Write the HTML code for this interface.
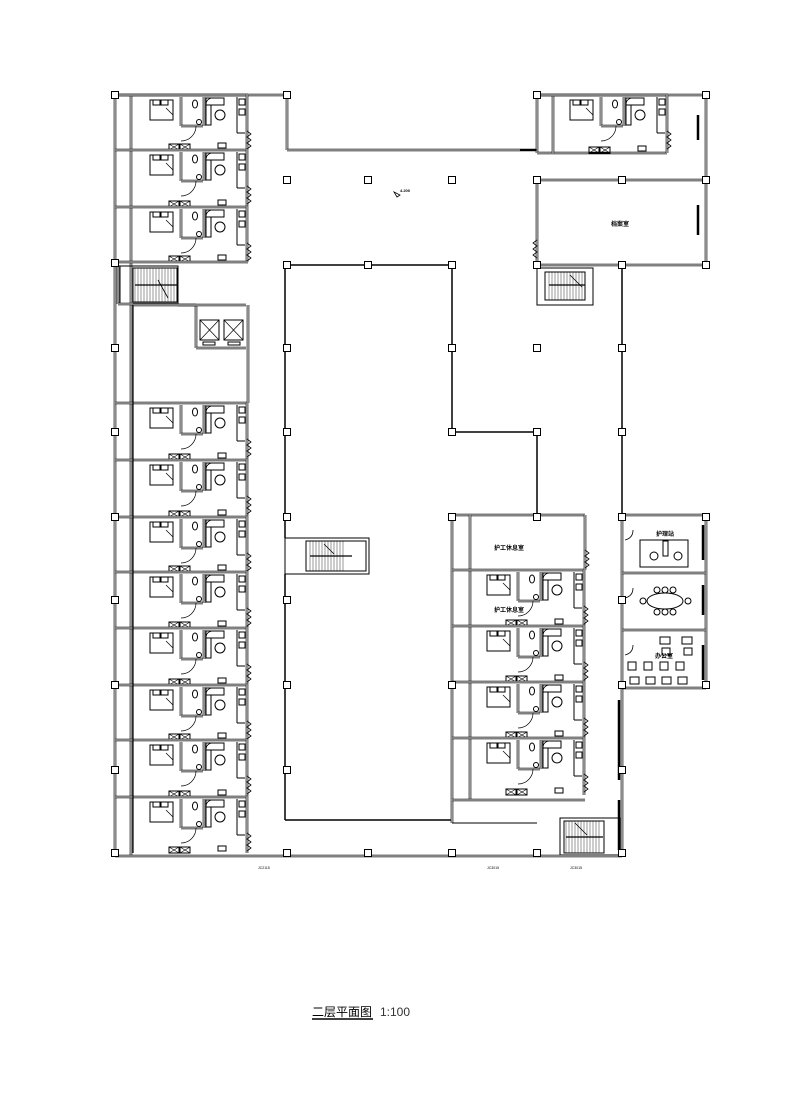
<!DOCTYPE html>
<html><head><meta charset="utf-8">
<style>html,body{margin:0;padding:0;background:#fff;}svg{display:block}</style>
</head><body>
<svg id="s" width="798" height="1098" viewBox="0 0 798 1098" xmlns="http://www.w3.org/2000/svg" font-family="'Liberation Sans','Noto Sans CJK SC',sans-serif">
<g id="g" fill="none" stroke="#000" stroke-width="1"></g>
<text x="312" y="1016" font-size="12" fill="#000" font-family="'Liberation Sans','Noto Sans CJK SC',sans-serif">二层平面图</text>
<line x1="312" y1="1019" x2="373" y2="1019" stroke="#000" stroke-width="1.5"/>
<text x="380" y="1016" font-size="12" fill="#333">1:100</text>
<g font-size="6" fill="#000" font-weight="bold">
<text x="611" y="226">档案室</text>
<text x="494" y="550">护工休息室</text>
<text x="494" y="612">护工休息室</text>
<text x="656" y="536">护理站</text>
<text x="655" y="658">办公室</text>
<text x="400" y="192" font-size="4">4.200</text>
</g>
<g font-size="3.5" fill="#000">
<text x="258" y="869">JC2115</text><text x="487" y="869">JC3015</text><text x="570" y="869">JC3015</text>
</g>
</svg>
<script>
var g=document.getElementById('g');var h='';
function L(a,b,c,d,w,col){h+='<line x1="'+a+'" y1="'+b+'" x2="'+c+'" y2="'+d+'"'+(w?' stroke-width="'+w+'"':'')+(col?' stroke="'+col+'"':'')+'/>';}
function D(a,b,c,d){L(a,b,c,d,2.6,'#000');L(a,b,c,d,1.1,'#fff');}
function R(x,y,w,hh,f){h+='<rect x="'+x+'" y="'+y+'" width="'+w+'" height="'+hh+'"'+(f?' fill="'+f+'"':'')+'/>';}
function C(x,y,r){h+='<circle cx="'+x+'" cy="'+y+'" r="'+r+'"/>';}
function P(d,w){h+='<path d="'+d+'"'+(w?' stroke-width="'+w+'"':'')+'/>';}
function post(x,y){R(x-3.5,y-3.5,7,7,'#fff');}
function unit(x,y,hh){
 D(x-18,y,x+115,y);
 R(x+17,y+5,23,20);R(x+20,y+5,7,5);R(x+28,y+5,7,5);P('M'+(x+33)+' '+(y+13)+' l7 7',0.7);
 D(x+48,y+2,x+48,y+31);D(x+48,y+31,x+70,y+31);D(x+71,y+2,x+71,y+31);
 h+='<ellipse cx="'+(x+62)+'" cy="'+(y+9)+'" rx="2.5" ry="4"/>';C(x+66,y+27,2.5);
 R(x+73,y+10,5,20);R(x+73,y+3,18,7);P('M'+(x+73)+' '+(y+10)+' q0 -6 6 -7',0.8);
 C(x+87,y+20,5);
 L(x+104,y+2,x+104,y+38);R(x+106,y+4,6,6);R(x+106,y+14,6,6);L(x+104,y+38,x+112,y+38);
 P('M'+(x+48)+' '+(y+46)+' a15 15 0 0 0 15 -15',0.7);
 R(x+36,hh+y-6,10,6);R(x+47,hh+y-6,10,6);P('M'+(x+36)+' '+(y+hh-6)+'l10 6m0 -6l-10 6m11 -6l10 6m0 -6l-10 6',0.6);
 R(x+85,y+hh-7,8,5);
 D(x+114,y,x+114,y+hh);
 P('M'+(x+114)+' '+(y+36)+' l4 3 -4 3 4 3 -4 3 4 3 -4 3',0.8);
}
D(115,95,287,95);D(115,95,115,855);D(131,95,131,855);
D(287,95,287,150);D(287,150,537,150);
D(115,856,622,856);
var ys=[95,150,207];for(var i=0;i<3;i++)unit(133,ys[i],ys[i+1]?ys[i+1]-ys[i]:55);
var ys2=[403,460,517,572,628,685,740,797];for(var i=0;i<8;i++)unit(133,ys2[i],(i<7?ys2[i+1]:853)-ys2[i]);
D(115,262,248,262);
R(120,266,58,38);R(133,268,44,34);for(var k=0;k<14;k++)L(135+k*3,268,135+k*3,302,0.4);L(135,285,177,285,1.2);P('M158 280 l10 18',0.8);
D(118,265,118,304);D(118,304,178,304);
D(196,305,196,348);D(196,348,246,348);D(248,305,248,403);D(133,305,196,305);
R(200,320,19,20);R(224,320,19,20);P('M200 320l19 20m0 -20l-19 20M224 320l19 20m0 -20l-19 20',0.7);R(203,342,12,3);R(228,342,12,3);
D(178,305,246,305);
L(133,305,133,853,1.2);
L(285,265,452,265,1.5);L(285,265,285,538,1.5);L(285,574,285,820,1.5);L(285,820,452,820,1.5);
L(452,265,452,432,1.5);L(452,432,537,432,1.5);L(537,432,537,515,1.5);
R(285,538,84,36);R(306,541,60,30);for(var k=0;k<12;k++)L(310+k*3,541,310+k*3,571,0.4);L(310,556,352,556,1.2);P('M324 544 l10 10',0.8);
D(452,515,585,515);D(452,515,452,823);D(470,515,470,800);
for(var i=0,yy=[570,626,682,738,795];i<4;i++)unit(470,yy[i],yy[i+1]-yy[i]);
D(585,515,585,570);P('M585 550 l4 3 -4 3 4 3 -4 3 4 3 -4 3',0.8);
D(452,800,585,800);L(452,823,537,823);
L(622,265,622,515,1.5);D(622,515,622,855);
R(560,818,60,37);R(564,821,40,32);for(var k=0;k<12;k++)L(566+k*3,821,566+k*3,853,0.4);L(566,837,603,837,1.2);P('M575 823 l12 12',0.8);
D(537,95,706,95);D(537,95,537,153);D(537,153,667,153);D(706,95,706,265);D(553,95,553,153);
unit(553,95,58);L(520,150,537,150,1);
D(537,180,706,180);D(537,180,537,265);D(537,265,706,265);P('M537 240 l-4 3 4 3 -4 3 4 3 -4 3 4 3',0.8);
L(698,115,698,140,2.5);L(698,205,698,235,2.5);
R(537,268,56,37);R(545,272,40,28);for(var k=0;k<12;k++)L(549+k*3,272,549+k*3,300,0.4);L(549,285,585,285,1.2);P('M570 275 l12 12',0.8);
D(622,515,706,515);D(706,515,706,688);D(622,688,706,688);D(622,573,706,573);D(622,630,706,630);
L(703,525,703,560,2.5);L(703,585,703,615,2.5);L(703,645,703,680,2.5);L(619,700,619,780,2.5);L(619,800,619,850,2.5);
R(640,540,48,27);C(654,556,4);C(678,556,4);R(663,541,5,15);
h+='<ellipse cx="665" cy="601" rx="18" ry="8"/>';for(var k=0;k<3;k++){C(657+k*8,590,3);C(657+k*8,612,3);}C(643,601,3);C(688,601,3);
for(var k=0;k<4;k++){R(628+k*16,662,8,8);R(630+k*16,677,9,7);}R(660,637,10,7);R(682,637,10,7);R(662,648,8,7);R(684,648,8,7);
P('M625 540 q8 -2 8 -10 M625 598 q8 -2 8 -10 M625 655 q8 -2 8 -10',0.8);
[[115,95],[287,95],[537,95],[706,95],[287,180],[368,180],[452,180],[537,180],[622,180],[706,180],[115,263],[287,265],[368,265],[452,265],[537,265],[622,265],[706,265],[115,348],[287,348],[452,348],[537,348],[622,348],[115,432],[287,432],[452,432],[537,432],[622,432],[115,517],[287,517],[452,517],[537,517],[622,517],[706,517],[287,600],[622,600],[115,600],[115,685],[287,685],[452,685],[622,685],[706,685],[115,770],[287,770],[622,770],[115,853],[287,853],[368,853],[452,853],[537,853],[622,853]].forEach(function(p){post(p[0],p[1]);});
P('M394 192 l6 3 -3 2z',0.8);
g.innerHTML=h;
</script>
</body></html>
